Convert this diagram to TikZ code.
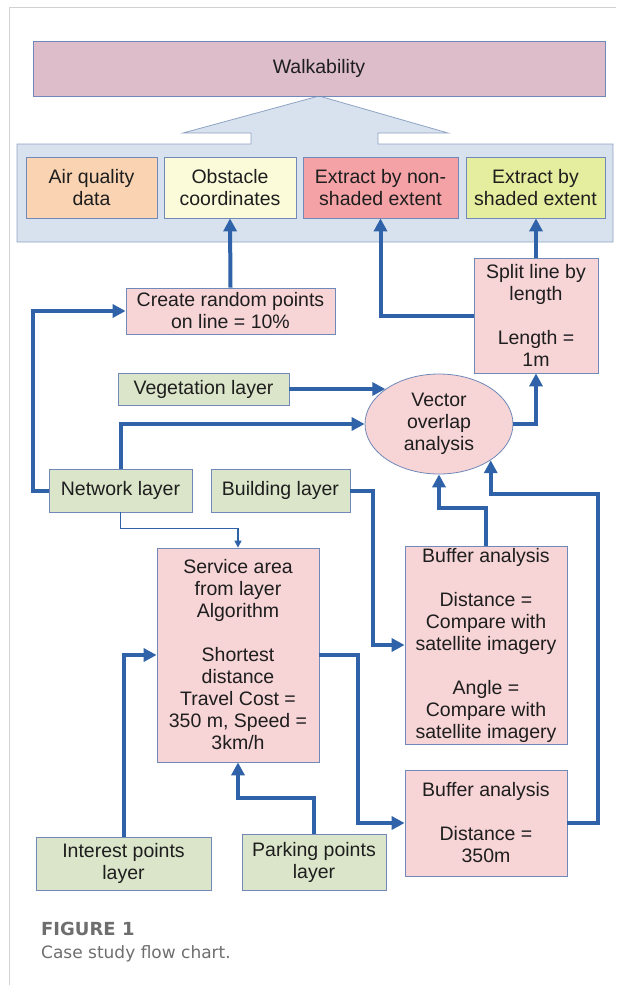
\documentclass[tikz,border=0pt]{standalone}
\usepackage{fontspec}
\setmainfont{Liberation Sans}
\newfontfamily\capfont{DejaVu Sans}
\usetikzlibrary{arrows.meta,shapes.geometric}
\definecolor{flowblue}{HTML}{2F62A8}
\definecolor{edgeblue}{HTML}{7189B8}
\definecolor{walkfill}{HTML}{DDBDCA}
\definecolor{panelfill}{HTML}{D8E2EE}
\definecolor{paneledge}{HTML}{8FA3C4}
\definecolor{peach}{HTML}{FAD4B2}
\definecolor{paleyel}{HTML}{FBFBD9}
\definecolor{salmon}{HTML}{F4A2A6}
\definecolor{lime}{HTML}{E5EE9E}
\definecolor{pinkbox}{HTML}{F7D4D6}
\definecolor{greenbox}{HTML}{DAE5C9}
\definecolor{textgray}{HTML}{1E1E1E}
\definecolor{capgray}{HTML}{6E6E6E}
\definecolor{framegray}{HTML}{D2D2D2}

\begin{document}
\begin{tikzpicture}[x=1pt,y=-1pt,
    font=\fontsize{19.5}{22}\selectfont,
    box/.style 2 args={draw=edgeblue,line width=0.8pt,text=textgray,align=center,
      inner sep=0pt,minimum width=#1pt,minimum height=#2pt},
    flow/.style={draw=flowblue,line width=4pt,-{Triangle[length=13pt,width=13pt]}},
    thinflow/.style={draw=flowblue,line width=1.4pt,-{Triangle[length=7pt,width=7pt]}}]
    \useasboundingbox (0,0) rectangle (616,985);
    \draw[framegray,line width=0.8pt] (9,985) -- (9,7) -- (616,7);
    % panel with the big arrow up to the top box
    \draw[paneledge,fill=panelfill,line width=0.8pt] (17,144) -- (251,144) -- (251,133)
      -- (183,133) -- (319,96) -- (448,133) -- (378,133) -- (378,144) -- (613,144)
      -- (613,242) -- (17,242) -- cycle;
    \node[box={572}{55},fill=walkfill] (walk) at (319,68.5) {Walkability};
    \node[box={131}{61},fill=peach] (air) at (91.5,187.5) {Air quality\\data};
    \node[box={132}{61},fill=paleyel] (obst) at (230,187.5) {Obstacle\\coordinates};
    \node[box={155}{61},fill=salmon] (nonsh) at (380.5,187.5) {Extract by non-\\shaded extent};
    \node[box={139}{61},fill=lime] (shad) at (535.5,187.5) {Extract by\\shaded extent};
    % processing steps
    \node[box={209}{46},fill=pinkbox] (rand) at (230.5,311) {Create random points\\on line = 10\%};
    \node[box={124}{115},fill=pinkbox] (split) at (536,315.5) {Split line by\\length\\[22pt]Length =\\1m};
    \node[box={148}{100},fill=pinkbox,ellipse] (vec) at (439,424) {Vector\\overlap\\analysis};
    \node[box={162}{214},fill=pinkbox] (serv) at (238,655) {Service area\\from layer\\Algorithm\\[22pt]Shortest\\distance\\Travel Cost =\\350 m, Speed =\\3km/h};
    \node[box={162}{198},fill=pinkbox] (buf1) at (486,645) {Buffer analysis\\[22pt]Distance =\\Compare with\\satellite imagery\\[22pt]Angle =\\Compare with\\satellite imagery};
    \node[box={162}{106},fill=pinkbox] (buf2) at (486,823) {Buffer analysis\\[22pt]Distance =\\350m};
    % input layers
    \node[box={171}{32},fill=greenbox] (veg) at (203.5,389) {Vegetation layer};
    \node[box={143}{43},fill=greenbox] (net) at (120.5,490.5) {Network layer};
    \node[box={139}{43},fill=greenbox] (bld) at (280.5,490.5) {Building layer};
    \node[box={175}{53},fill=greenbox] (intr) at (123.5,863.5) {Interest points\\layer};
    \node[box={144}{56},fill=greenbox] (park) at (314,862) {Parking points\\layer};
    \coordinate (jn) at (598,494);
    % connectors
    \draw[flow] (rand.north) -- (obst.south);
    \draw[flow] (net.west) -- ++(-16,0) |- (rand.west);
    \draw[flow] (split.north) -- (split.north |- shad.south);
    \draw[flow] (split.west) -| (nonsh.south);
    \draw[flow] (veg.east) -- (veg.east -| vec.147);
    \draw[flow] (net.north) |- (vec.west);
    \draw[flow] (vec.east) -| (split.south);
    \draw[flow] (bld.east) -- ++(23,0) |- (buf1.west);
    \draw[flow] (buf1.north) -- ++(0,-38) -| (vec.south);
    \draw[flow] (buf2.east) -| (jn) -| (vec.325);
    \draw[flow] (intr.north) |- (serv.west);
    \draw[flow] (serv.east) -- ++(39,0) |- (buf2.west);
    \draw[flow] (park.north) -- ++(0,-36) -| (serv.south);
    \draw[thinflow] (net.south) -- ++(0,16) -| (serv.north);
    % caption
    \node[anchor=base west,inner sep=0pt,text=capgray,font=\capfont\bfseries\fontsize{18}{20}\selectfont] (figlab) at (41,935) {FIGURE 1};
    \node[anchor=base west,inner sep=0pt,text=capgray,font=\capfont\fontsize{17}{20}\selectfont] (figtxt) at (41,958) {Case study flow chart.};
\end{tikzpicture}
\end{document}
